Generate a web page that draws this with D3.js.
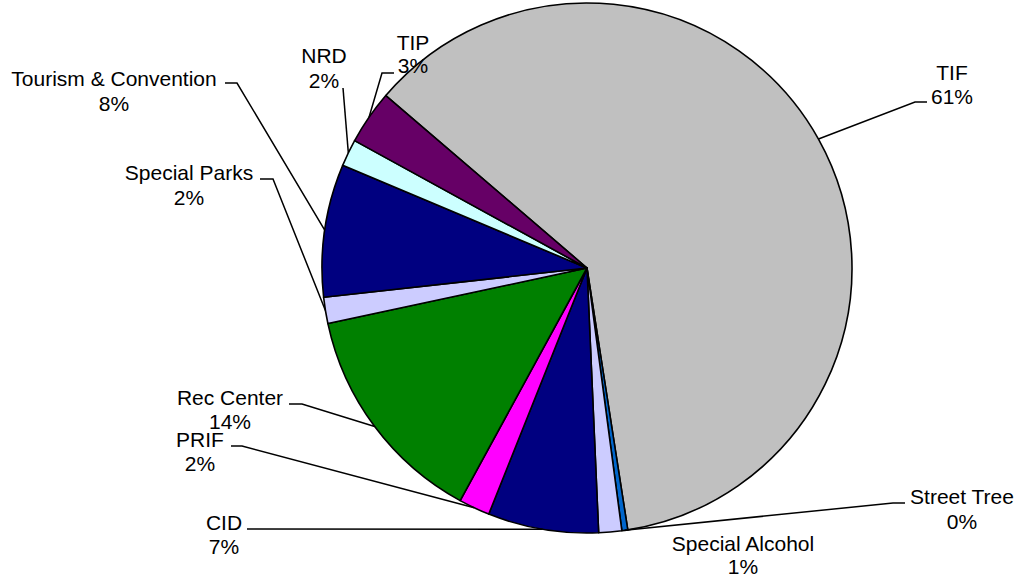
<!DOCTYPE html>
<html>
<head>
<meta charset="utf-8">
<script src="https://cdn.jsdelivr.net/npm/d3@7"></script>
<style>
  html, body { margin: 0; padding: 0; background: #fff; }
  svg { display: block; }
</style>
</head>
<body>
<svg id="chart" width="1021" height="579"></svg>
<script>
// ---- data ----
const categories = ["TIF", "Street Tree", "Special Alcohol", "CID", "PRIF", "Rec Center",
                    "Special Parks", "Tourism & Convention", "NRD", "TIP"];
const values = [61.3, 0.36, 1.4, 6.75, 1.9, 13.7, 1.6, 8.1, 1.65, 3.3];
const colors = ["#C0C0C0", "#0066CC", "#CCCCFF", "#000080", "#FF00FF", "#008000",
                "#CCCCFF", "#000080", "#CCFFFF", "#660066"];

// ---- layout (label placement, hand positioned like the original) ----
const labelLayout = [
  { x: 952, y1: 72,  y2: 96,  leader: [[915, 102], [927, 102]] },
  { x: 962, y1: 496, y2: 521, leader: [[893, 503], [905, 503]] },
  { x: 743, y1: 543, y2: 566, leader: null },
  { x: 224, y1: 522, y2: 546, leader: [[247, 529]] },
  { x: 200, y1: 439, y2: 463, leader: [[242, 446], [231, 446]] },
  { x: 230, y1: 397, y2: 421, leader: [[302, 404], [289, 404]] },
  { x: 189, y1: 172, y2: 197, leader: [[273, 179], [260, 179]] },
  { x: 114, y1: 78,  y2: 103, leader: [[237, 83], [225, 83]] },
  { x: 324, y1: 55,  y2: 80,  leader: [[343, 88]] },
  { x: 413, y1: 42,  y2: 65,  leader: [[382, 73], [394, 73]] }
];

const cx = 587, cy = 268, R = 265;
const startDeg = 310.6;
const fontSize = 21;

const svg = d3.select("#chart");
const total = d3.sum(values);

const pie = d3.pie()
  .sort(null)
  .value(d => d)
  .startAngle(startDeg * Math.PI / 180)
  .endAngle(startDeg * Math.PI / 180 + 2 * Math.PI);

const arcs = pie(values);
const arc = d3.arc().innerRadius(0).outerRadius(R);

const g = svg.append("g").attr("transform", `translate(${cx},${cy})`);

g.selectAll("path.slice")
  .data(arcs)
  .join("path")
  .attr("class", "slice")
  .attr("d", arc)
  .attr("fill", (d, i) => colors[i])
  .attr("stroke", "#000")
  .attr("stroke-width", 1.6)
  .attr("stroke-linejoin", "round");

// leader lines
const line = d3.line();
arcs.forEach((d, i) => {
  const L = labelLayout[i];
  if (!L.leader) return;
  const mid = (d.startAngle + d.endAngle) / 2;
  const ax = cx + R * Math.sin(mid);
  const ay = cy - R * Math.cos(mid);
  const pts = [[ax, ay]].concat(L.leader);
  svg.append("path")
    .attr("d", line(pts))
    .attr("fill", "none")
    .attr("stroke", "#000")
    .attr("stroke-width", 1.5);
});

// labels
arcs.forEach((d, i) => {
  const L = labelLayout[i];
  const pct = Math.round(values[i] / total * 100) + "%";
  const t = svg.append("text")
    .attr("text-anchor", "middle")
    .attr("font-family", "'Liberation Sans', Arial, sans-serif")
    .attr("font-size", fontSize)
    .attr("fill", "#000");
  t.append("tspan").attr("x", L.x).attr("y", L.y1 + fontSize * 0.36).text(categories[i]);
  t.append("tspan").attr("x", L.x).attr("y", L.y2 + fontSize * 0.36).text(pct);
});
</script>
</body>
</html>
